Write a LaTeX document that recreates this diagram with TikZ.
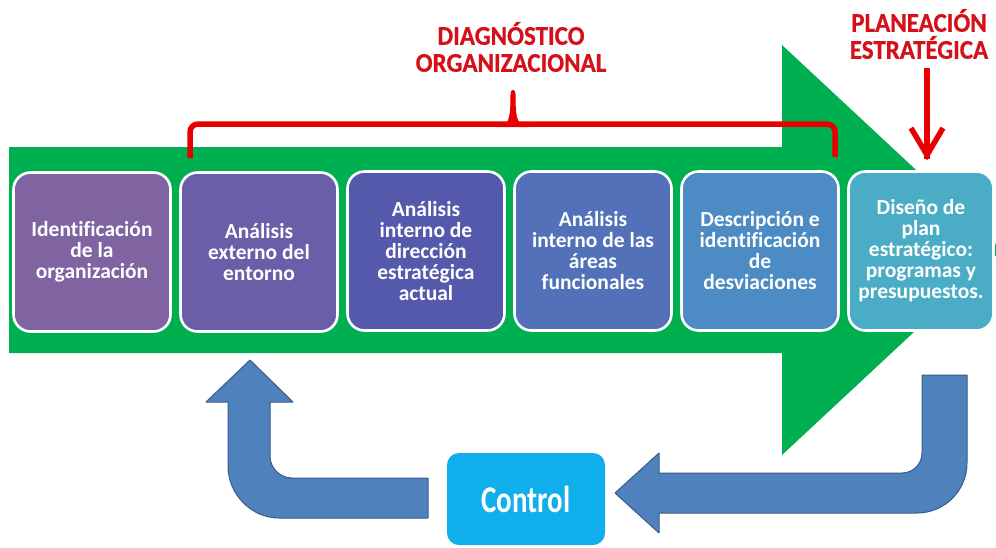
\documentclass[tikz,border=0pt]{standalone}
\usepackage{fontspec}
\setmainfont{Carlito}[Ligatures=NoCommon]
\newfontfamily\hdrfont{Carlito}[Ligatures=NoCommon, BoldFeatures={FakeBold=0.7}]
\usepackage{graphicx}
\definecolor{arrgreen}{RGB}{0,176,80}
\definecolor{cA}{RGB}{128,100,162}
\definecolor{cB}{RGB}{107,94,168}
\definecolor{cC}{RGB}{84,89,171}
\definecolor{cD}{RGB}{82,113,185}
\definecolor{cE}{RGB}{76,139,195}
\definecolor{cF}{RGB}{75,172,198}
\definecolor{blkblue}{RGB}{79,129,189}
\definecolor{blkedge}{RGB}{56,93,138}
\definecolor{ctrlblue}{RGB}{16,175,235}
\definecolor{hdrred}{RGB}{212,16,26}
\definecolor{linered}{RGB}{232,0,0}
\begin{document}
\begin{tikzpicture}[x=1pt,y=-1pt,
  stepbox/.style={rounded corners=17pt, draw=white, line width=2.6pt,
    minimum width=157pt, minimum height=159pt, text=white, align=center,
    font=\fontsize{21.5}{21}\selectfont\bfseries, inner sep=0pt},
  hdr/.style={text=hdrred, align=center, font=\hdrfont\fontsize{25}{27}\selectfont\bfseries, inner sep=0pt},
  ctrlbox/.style={rounded corners=12pt, fill=ctrlblue, text=white,
    minimum width=158pt, minimum height=92pt, inner sep=0pt,
    font=\fontsize{29}{30}\selectfont\bfseries},
  blockarrow/.style={fill=blkblue, draw=blkedge, line width=1pt, line join=round},
  redline/.style={draw=linered, line width=5.5pt}
]
\useasboundingbox (0,0) rectangle (996,547);
\clip (0,0) rectangle (996,547);
\fill[white] (0,0) rectangle (996,547);

% big green arrow
\fill[arrgreen] (9,147) -- (782,147) -- (782,45) -- (1002,250) -- (782,455) -- (782,353) -- (9,353) -- cycle;

% red bracket
\draw[redline, rounded corners=8pt] (190,158) -- (190,124) -- (835,124) -- (835,157);
\fill[linered] (497,127) .. controls (509,127) and (510.5,118) .. (510.5,94)
  .. controls (510.5,88.5) and (515.5,88.5) .. (515.5,94)
  .. controls (515.5,118) and (517,127) .. (529,127) -- cycle;

% headers
\node[hdr] (diag) at (511,47) {\scalebox{1}[1.08]{DIAGNÓSTICO}\\\scalebox{1}[1.08]{ORGANIZACIONAL}};
\node[hdr] (plan) at (919,34) {\scalebox{1}[1.08]{PLANEACIÓN}\\\scalebox{1}[1.08]{ESTRATÉGICA}};

% boxes
\node[stepbox, fill=cA] (b1) at (92,252) {Identificación\\de la\\organización};
\node[stepbox, fill=cB] (b2) at (259,252) {Análisis\\externo del\\entorno};
\node[stepbox, fill=cC] (b3) at (426,251) {Análisis\\interno de\\dirección\\estratégica\\actual};
\node[stepbox, fill=cD] (b4) at (593,251) {Análisis\\interno de las\\áreas\\funcionales};
\node[stepbox, fill=cE] (b5) at (760,251) {Descripción e\\identificación\\de\\desviaciones};
\node[stepbox, fill=cF, minimum width=145pt] (b6) at (921,251) {Diseño de\\plan\\estratégico:\\programas y\\presupuestos.};

% red arrow from header to last box
\coordinate (rs) at (927,68);
\coordinate (re) at (927,155);
\draw[redline] (rs) -- ([yshift=-4pt]re);
\draw[redline, line join=miter] (911,128) -- (re) -- (943,128);

% control box
\node[ctrlbox] (ctrl) at (526,499) {\scalebox{1}[1.3]{Control}};

% blue block arrow: from last box down and back to control
\draw[blockarrow] (922,375) -- (967,375) -- (967,463)
  .. controls (967,490.6) and (944.6,513) .. (917,513)
  -- (659,513) -- (659,533) -- (615,493) -- (659,453) -- (659,473) -- (902,473)
  .. controls (913,473) and (922,464) .. (922,453) -- cycle;

% blue block arrow: from control back up to second box
\draw[blockarrow] (428,478) -- (292,478)
  .. controls (280,478) and (270,468) .. (270,456)
  -- (270,402) -- (293,402) -- (250,360) -- (206,402) -- (228,402) -- (228,466)
  .. controls (228,494) and (251,518) .. (279,518)
  -- (428,518) -- cycle;
\end{tikzpicture}
\end{document}
